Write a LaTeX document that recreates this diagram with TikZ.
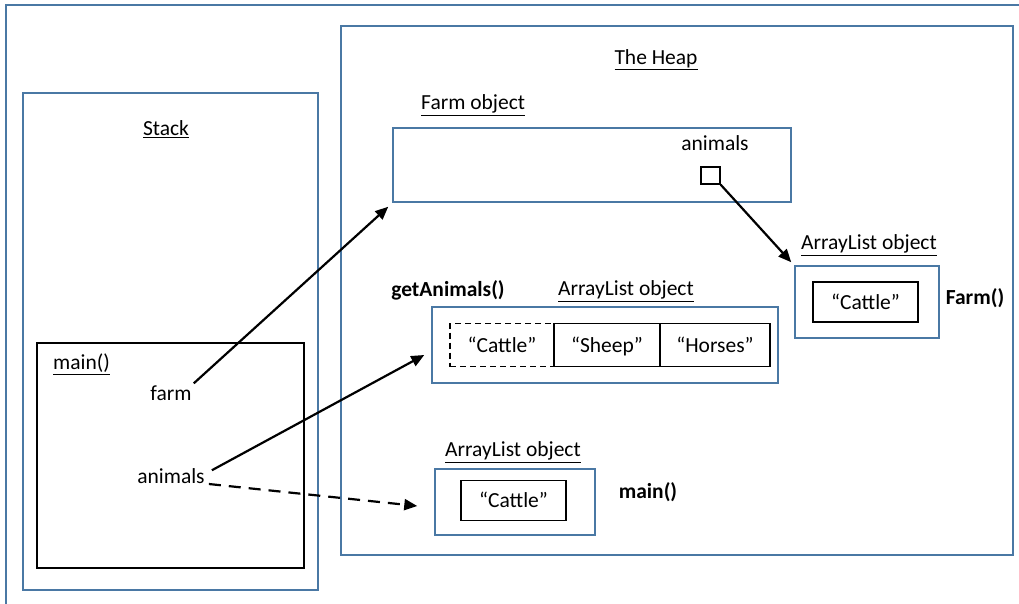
\documentclass[tikz,border=0pt]{standalone}
\usepackage{fontspec}
\setmainfont{Carlito}
\usetikzlibrary{positioning, arrows.meta, calc}

\definecolor{boxblue}{HTML}{4A78A4}

\begin{document}
\begin{tikzpicture}[x=1pt, y=-1pt,
  every node/.style={font=\fontsize{21.5}{25}\selectfont, inner sep=0pt},
  area/.style={draw=boxblue, line width=1.5pt},
  frame/.style={draw=black, line width=1.6pt},
  cell/.style={draw=black, line width=1.5pt, minimum height=42pt, outer sep=0pt,
               text height=17pt, text depth=3pt},
  lbl/.style={font=\fontsize{21.5}{25}\selectfont},
  mth/.style={font=\fontsize{21.5}{25}\selectfont\bfseries},
  ref/.style={-{Triangle[length=13pt, width=11pt]}, line width=2.2pt},
  refd/.style={ref, dash pattern=on 12pt off 8pt},
]
\useasboundingbox (0,0) rectangle (1019,604);

% === Outer frame (cut off at right and bottom) ===
\draw[area] (6,604) -- (6,5) -- (1019,5);

% === Stack ===
\node[area, minimum width=295pt, minimum height=497pt] (stack) at (170.5,341.5) {};
\node[lbl] (stacklbl) at (166,129) {\underline{Stack}};

\node[frame, minimum width=267pt, minimum height=225pt] (mainframe) at (170.5,455.5) {};
\node[lbl, anchor=west] (mainlbl) at (53,364) {\underline{main()}};
\node[lbl] (farm) at (171,393) {farm};
\node[lbl] (animals) at (171,476) {animals};

% === The Heap ===
\node[area, minimum width=672pt, minimum height=529pt] (heap) at (677,290.5) {};
\node[lbl] (heaplbl) at (656,60) {\underline{The Heap}};

% === Farm object ===
\node[area, minimum width=398pt, minimum height=74pt] (farmobj) at (592,165) {};
\node[lbl, anchor=west] (farmlbl) at (421,105) {\underline{Farm object}};
\node[lbl] (fieldlbl) at (715,143) {animals};
\node[draw=black, line width=1.4pt, minimum width=19pt, minimum height=17pt] (slot) at (710.5,175.5) {};

% === ArrayList built in Farm() ===
\node[area, minimum width=144pt, minimum height=72pt] (listA) at (867,302) {};
\node[lbl] (listAlbl) at (869,245) {\underline{ArrayList object}};
\node[cell, minimum width=105pt, minimum height=40pt] (cattleA) at (865.5,302) {``Cattle''};
\node[mth] (farmctor) at (975,298) {Farm()};

% === ArrayList built in getAnimals() ===
\node[area, minimum width=346pt, minimum height=76pt] (listB) at (605,345) {};
\node[mth] (getlbl) at (448,290) {getAnimals()};
\node[lbl] (listBlbl) at (626,291) {\underline{ArrayList object}};
\node[cell, dash pattern=on 6pt off 4pt, minimum width=104pt, minimum height=43pt] (cattleB) at (502,345) {``Cattle''};
\node[cell, minimum width=106pt, minimum height=43pt, right=0pt of cattleB] (sheep) {``Sheep''};
\node[cell, minimum width=110pt, minimum height=43pt, right=0pt of sheep] (horses) {``Horses''};

% === ArrayList built in main() ===
\node[area, minimum width=160pt, minimum height=66pt] (listC) at (515,502) {};
\node[lbl] (listClbl) at (513,452) {\underline{ArrayList object}};
\node[cell, minimum width=105pt, minimum height=40pt] (cattleC) at (513.5,500.5) {``Cattle''};
\node[mth] (mainmth) at (648,492) {main()};

% === References ===
\draw[ref] ($(farm.north east)+(2,-2)$) -- ($(farmobj.south west)+(-4,4)$);
\draw[ref] ($(animals.north east)+(7,2)$) -- ($(listB.west)+(-7,10)$);
\draw[refd] ($(animals.east)+(4,8)$) -- ($(listC.west)+(-17,4)$);
\draw[ref] (slot.south east) -- ($(listA.north west)+(-3,-3)$);

\end{tikzpicture}
\end{document}
